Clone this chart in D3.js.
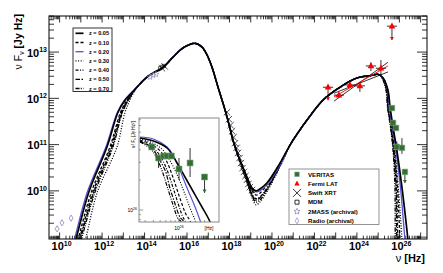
<!DOCTYPE html>
<html><head><meta charset="utf-8">
<script src="https://cdn.jsdelivr.net/npm/d3@7"></script>
<style>body{margin:0;background:#fff}svg{display:block;font-family:"Liberation Sans",Arial,Helvetica,sans-serif}</style>
</head><body><svg id="c" width="443" height="273"></svg>
<script>
// ---------- DATA (log10 nu [Hz], log10 nuFnu [Jy Hz]) ----------
// low-frequency synchrotron branch: shared log F levels, per-redshift log nu
const lowF      = [8.51, 8.96, 9.98, 10.95, 11.70, 11.96];
const lowNu005  = [10.49, 10.77, 11.38, 12.23, 12.75, 13.08];
const lowNu010  = [10.58, 10.87, 11.50, 12.37, 12.87, 13.17];
const lowNu020  = [10.42, 10.70, 11.31, 12.18, 12.72, 13.05];
const lowNu030  = [10.91, 11.22, 11.78, 12.70, 13.08, 13.31];
const lowNu040  = [10.65, 10.94, 11.57, 12.42, 12.91, 13.20];
const lowNu050  = [10.70, 10.98, 11.62, 12.47, 12.94, 13.22];
const lowNu070  = [10.75, 11.03, 11.67, 12.51, 12.96, 13.24];
// common synchrotron peak
const synchPeak = [[13.64,12.24],[14.11,12.46],[14.49,12.57],[14.82,12.65],[15.34,12.89],[15.81,13.09],[16.37,13.19],[16.70,13.11],[16.94,12.94],[17.17,12.68],[17.46,12.24],[17.79,11.75],[18.02,11.36],[18.16,11.10]];
// valley between humps: shared log nu, per-redshift log F
const dipNu  = [18.49, 18.82, 19.06, 19.25, 19.43, 19.76, 20.38];
const dipF005 = [10.67, 10.30, 10.06, 10.00, 10.04, 10.17, 10.60];
const dipF010 = [10.67, 10.28, 10.00, 9.91, 9.95, 10.13, 10.60];
const dipF020 = [10.67, 10.30, 10.06, 9.98, 10.00, 10.13, 10.56];
const dipF030 = [10.62, 10.19, 9.85, 9.70, 9.76, 9.98, 10.52];
const dipF040 = [10.65, 10.24, 9.93, 9.83, 9.87, 10.06, 10.56];
const dipF050 = [10.65, 10.24, 9.91, 9.80, 9.85, 10.04, 10.56];
const dipF070 = [10.65, 10.21, 9.89, 9.76, 9.80, 10.02, 10.54];
// common inverse-Compton rise
const icRise = [[20.85,10.99],[21.32,11.32],[21.65,11.53],[22.40,11.96],[23.20,12.24],[24.00,12.44],[24.75,12.50],[24.99,12.52]];
// high-energy cut-off: shared log F levels, per-redshift log nu
const highF     = [12.44, 12.18, 11.81, 11.38, 10.88, 10.08, 8.96, 8.51];
const highNu005 = [25.23, 25.46, 25.56, 25.70, 25.88, 26.12, 26.40, 26.50];
const highNu010 = [25.23, 25.41, 25.48, 25.63, 25.77, 25.91, 26.03, 26.10];
const highNu020 = [25.23, 25.44, 25.53, 25.67, 25.84, 26.05, 26.26, 26.36];
const highNu030 = [25.23, 25.41, 25.51, 25.65, 25.79, 25.95, 26.12, 26.19];
const highNu040 = [25.20, 25.39, 25.46, 25.60, 25.74, 25.86, 25.93, 25.98];
const highNu050 = [25.20, 25.39, 25.46, 25.60, 25.72, 25.84, 25.88, 25.93];
const highNu070 = [25.18, 25.37, 25.44, 25.58, 25.70, 25.79, 25.81, 25.86];
const redshifts = ["z = 0.05","z = 0.10","z = 0.20","z = 0.30","z = 0.40","z = 0.50","z = 0.70"];

// observations
const veritasNu = [25.65, 25.70, 25.84, 25.88, 26.12, 26.26];
const veritasF  = [11.79, 11.47, 11.36, 10.95, 10.93, 10.41];
const veritasLo = [11.75, 11.42, 11.31, 10.85, 10.80, 10.17];
const veritasHi = [11.83, 11.52, 11.41, 11.07, 11.14, 10.41];
const veritasUL = [false, false, false, false, false, true];
const fermiNu = [22.64, 23.15, 23.67, 24.14, 24.66, 25.13, 25.65];
const fermiF  = [12.24, 12.07, 12.29, 12.27, 12.70, 12.65, 13.56];
const fermiLo = [11.96, 12.02, 12.24, 12.14, 12.59, 12.50, 13.26];
const fermiHi = [12.24, 12.12, 12.34, 12.35, 12.78, 12.83, 13.56];
const fermiUL = [true, false, false, false, false, false, true];
const fermiBinHalf = 0.24;
const fermiFit  = [[22.92,12.03],[25.46,12.70]];
const fermiBowA = [[22.92,12.11],[25.46,12.57]];
const fermiBowB = [[22.92,11.94],[25.46,12.78]];
const swiftNu = [14.82, 14.95, 17.88, 17.97, 18.05, 18.12, 18.19, 18.26, 18.33, 18.40, 18.47, 18.54, 18.61, 18.68, 18.75, 18.82, 18.89, 18.96, 19.06];
const swiftF  = [12.65, 12.69, 11.70, 11.55, 11.42, 11.29, 11.16, 11.03, 10.93, 10.82, 10.71, 10.60, 10.49, 10.41, 10.32, 10.24, 10.15, 10.08, 10.02];
const mdmNu = [14.73, 14.82, 14.91];
const mdmF  = [12.65, 12.68, 12.70];
const twomassNu = [14.26, 14.40, 14.54];
const twomassF  = [12.46, 12.50, 12.52];
const radioNu = [9.88, 10.11, 10.54];
const radioF  = [9.18, 9.31, 9.41];

// inset (log nu, log nu^2 F_nu)
const insetZ005 = [[25.54,26.72],[25.70,26.69],[25.86,26.62],[25.97,26.48],[26.07,26.33],[26.17,26.18],[26.27,26.03],[26.36,25.89],[26.42,25.75]];
const insetZ010 = [[25.54,26.70],[25.69,26.65],[25.80,26.57],[25.87,26.46],[25.94,26.30],[26.01,26.12],[26.08,25.96],[26.13,25.89],[26.16,25.75]];
const insetZ020 = [[25.54,26.73],[25.70,26.71],[25.86,26.63],[25.93,26.55],[26.01,26.40],[26.09,26.23],[26.17,26.07],[26.25,25.89],[26.30,25.75]];
const insetZ030 = [[25.54,26.71],[25.69,26.67],[25.81,26.60],[25.89,26.50],[25.98,26.35],[26.06,26.18],[26.13,26.02],[26.19,25.89],[26.22,25.75]];
const insetZ040 = [[25.54,26.69],[25.68,26.63],[25.78,26.54],[25.85,26.42],[25.92,26.25],[25.98,26.09],[26.04,25.94],[26.07,25.89],[26.11,25.75]];
const insetZ050 = [[25.54,26.69],[25.68,26.62],[25.76,26.52],[25.84,26.39],[25.89,26.23],[25.95,26.07],[26.01,25.93],[26.05,25.89],[26.08,25.75]];
const insetZ070 = [[25.54,26.68],[25.67,26.61],[25.75,26.50],[25.81,26.37],[25.87,26.21],[25.93,26.05],[25.99,25.91],[26.02,25.89],[26.06,25.75]];
const insetVNu = [25.68, 25.76, 25.82, 25.86, 25.91, 26.00, 26.13, 26.30];
const insetVY  = [26.63, 26.52, 26.54, 26.54, 26.54, 26.41, 26.47, 26.33];
const insetVLo = [26.61, 26.42, 26.52, 26.52, 26.52, 26.30, 26.33, 26.17];
const insetVHi = [26.65, 26.55, 26.56, 26.56, 26.56, 26.52, 26.62, 26.33];
const insetVUL = [false, false, false, false, false, false, false, true];

const xTickLabels = [10, 12, 14, 16, 18, 20, 22, 24, 26];
const yTickLabels = [10, 11, 12, 13];
const legendObs = ["VERITAS","Fermi LAT","Swift XRT","MDM","2MASS (archival)","Radio (archival)"];

// ---------- BUILD ----------
const P = v => Math.pow(10, v);
const zip = (a, b) => a.map((v, i) => [v, b[i]]);
const build = (lowNu, dipF, highNu) => [...zip(lowNu, lowF), ...synchPeak, ...zip(dipNu, dipF), ...icRise, ...zip(highNu, highF)];
const styles = [
  {dash:null, color:"#000", w:1.7},
  {dash:"3,2", color:"#000", w:1.3},
  {dash:null, color:"#5252d8", w:1.3},
  {dash:"1,1.6", color:"#000", w:1.3},
  {dash:"3,1.5,1,1.5", color:"#000", w:1.3},
  {dash:"4.5,1.5,1.5,1.5", color:"#000", w:1.3},
  {dash:"4,1.3,1,1.3,1,1.3", color:"#000", w:1.3}
];
const series = [
  build(lowNu005, dipF005, highNu005),
  build(lowNu010, dipF010, highNu010),
  build(lowNu020, dipF020, highNu020),
  build(lowNu030, dipF030, highNu030),
  build(lowNu040, dipF040, highNu040),
  build(lowNu050, dipF050, highNu050),
  build(lowNu070, dipF070, highNu070)
];
const insetSeries = [insetZ005, insetZ010, insetZ020, insetZ030, insetZ040, insetZ050, insetZ070];
const drawOrder = [6,5,4,3,1,2,0];

const svg = d3.select("#c");
const L=49, R=427, T=16, B=239;
const x = d3.scaleLog().domain([P(9.5), P(27.3)]).range([L, R]);
const y = d3.scaleLog().domain([P(8.96), P(13.78)]).range([B, T]);

svg.append("rect").attr("width",443).attr("height",273).attr("fill","#fff");
svg.append("clipPath").attr("id","clip").append("rect").attr("x",L).attr("y",T).attr("width",R-L).attr("height",B-T);

// ticks
const gAx = svg.append("g").attr("stroke","#000").attr("stroke-width",0.8);
for (let k = 9; k <= 27; k++) for (let m = 1; m <= 9; m++) {
  const v = m * P(k); if (v < x.domain()[0] || v > x.domain()[1]) continue;
  const xx = x(v), len = m === 1 ? 6.5 : 3.3;
  gAx.append("line").attr("x1",xx).attr("x2",xx).attr("y1",B).attr("y2",B-len);
  gAx.append("line").attr("x1",xx).attr("x2",xx).attr("y1",T).attr("y2",T+len);
}
for (let k = 8; k <= 13; k++) for (let m = 1; m <= 9; m++) {
  const v = m * P(k); if (v < y.domain()[0] || v > y.domain()[1]) continue;
  const yy = y(v), len = m === 1 ? 10 : 5;
  gAx.append("line").attr("y1",yy).attr("y2",yy).attr("x1",L).attr("x2",L+len);
  gAx.append("line").attr("y1",yy).attr("y2",yy).attr("x1",R).attr("x2",R-len);
}
// tick labels
xTickLabels.forEach(e => {
  const t = svg.append("text").attr("x", x(P(e))+2).attr("y",250).attr("text-anchor","middle")
    .attr("font-size",11).attr("font-weight","bold");
  t.append("tspan").text("10");
  t.append("tspan").attr("dy",-4.5).attr("font-size",7).text(e);
});
yTickLabels.forEach(e => {
  const t = svg.append("text").attr("x",47).attr("y", y(P(e))+4.5).attr("text-anchor","end")
    .attr("font-size",11).attr("font-weight","bold");
  t.append("tspan").text("10");
  t.append("tspan").attr("dy",-4.5).attr("font-size",7).text(e);
});
// axis titles
const xt = svg.append("text").attr("x",425).attr("y",262).attr("text-anchor","end").attr("font-size",11).attr("font-weight","bold");
xt.append("tspan").attr("font-weight","normal").text("ν");
xt.append("tspan").text(" [Hz]");
const yt = svg.append("text").attr("transform","translate(22,14) rotate(-90)").attr("text-anchor","end").attr("font-size",10.5).attr("font-weight","bold");
yt.append("tspan").attr("font-weight","normal").text("ν F");
yt.append("tspan").attr("font-size",7).attr("dy",2).attr("font-weight","normal").text("ν");
yt.append("tspan").attr("dy",-2).text(" [Jy Hz]");

// curves
const line = d3.line().x(d => x(P(d[0]))).y(d => y(P(d[1]))).curve(d3.curveCatmullRom.alpha(0.5));
const gC = svg.append("g").attr("clip-path","url(#clip)");
drawOrder.forEach(i => {
  gC.append("path").attr("d", line(series[i])).attr("fill","none")
    .attr("stroke", styles[i].color).attr("stroke-width", styles[i].w)
    .attr("stroke-dasharray", styles[i].dash);
});

// fermi bowtie
[fermiBowA, fermiBowB].forEach(b => gC.append("path").attr("d", d3.line().x(d=>x(P(d[0]))).y(d=>y(P(d[1])))(b)).attr("stroke","#000").attr("stroke-width",0.8).attr("fill","none"));
gC.append("path").attr("d", d3.line().x(d=>x(P(d[0]))).y(d=>y(P(d[1])))(fermiFit)).attr("stroke","#f00").attr("stroke-width",0.9).attr("fill","none");

// symbols
const sym = {
  square: s => `M${-s},${-s}h${2*s}v${2*s}h${-2*s}Z`,
  tri: s => `M0,${-s*1.15}L${s},${s*0.7}L${-s},${s*0.7}Z`,
  cross: s => `M${-s},${-s}L${s},${s}M${-s},${s}L${s},${-s}`,
  diamond: s => `M0,${-s*1.3}L${s*0.8},0L0,${s*1.3}L${-s*0.8},0Z`,
  star: s => { let p=""; for(let i=0;i<10;i++){const r=i%2?s*0.45:s, a=-Math.PI/2+i*Math.PI/5; p+=(i?"L":"M")+(r*Math.cos(a)).toFixed(2)+","+(r*Math.sin(a)).toFixed(2);} return p+"Z"; }
};
const gD = svg.append("g").attr("clip-path","url(#clip)");
function arrow(g, xx, y0, y1, col){
  g.append("line").attr("x1",xx).attr("x2",xx).attr("y1",y0).attr("y2",y1).attr("stroke","#000").attr("stroke-width",0.8);
  g.append("path").attr("d",`M${xx-2},${y1-3}L${xx+2},${y1-3}L${xx},${y1}Z`).attr("fill",col);
}
// radio
radioNu.forEach((v,i)=> gD.append("path").attr("transform",`translate(${x(P(v))},${y(P(radioF[i]))})`).attr("d",sym.diamond(2.4)).attr("fill","none").attr("stroke","#8585c0").attr("stroke-width",0.8));
// 2MASS
twomassNu.forEach((v,i)=> gD.append("path").attr("transform",`translate(${x(P(v))},${y(P(twomassF[i]))})`).attr("d",sym.star(3)).attr("fill","none").attr("stroke","#8e8eb8").attr("stroke-width",0.7));
// MDM
mdmNu.forEach((v,i)=> gD.append("path").attr("transform",`translate(${x(P(v))},${y(P(mdmF[i]))})`).attr("d",sym.square(1.6)).attr("fill","none").attr("stroke","#000").attr("stroke-width",0.6));
// Swift
swiftNu.forEach((v,i)=> gD.append("path").attr("transform",`translate(${x(P(v))},${y(P(swiftF[i]))})`).attr("d",sym.cross(3.2)).attr("fill","none").attr("stroke","#000").attr("stroke-width",0.7));
// Fermi
fermiNu.forEach((v,i)=>{
  const xx=x(P(v)), yy=y(P(fermiF[i]));
  gD.append("line").attr("x1",x(P(v-fermiBinHalf))).attr("x2",x(P(v+fermiBinHalf))).attr("y1",yy).attr("y2",yy).attr("stroke","#000").attr("stroke-width",0.8);
  if (fermiUL[i]) arrow(gD, xx, yy, y(P(fermiLo[i])), "#f00");
  else gD.append("line").attr("x1",xx).attr("x2",xx).attr("y1",y(P(fermiLo[i]))).attr("y2",y(P(fermiHi[i]))).attr("stroke","#000").attr("stroke-width",0.8);
  gD.append("path").attr("transform",`translate(${xx},${yy})`).attr("d",sym.tri(3.3)).attr("fill","#f00");
});
// VERITAS
veritasNu.forEach((v,i)=>{
  const xx=x(P(v)), yy=y(P(veritasF[i]));
  if (veritasUL[i]) arrow(gD, xx, yy, y(P(veritasLo[i])), "#2f6a2f");
  else gD.append("line").attr("x1",xx).attr("x2",xx).attr("y1",y(P(veritasLo[i]))).attr("y2",y(P(veritasHi[i]))).attr("stroke","#000").attr("stroke-width",0.8);
  gD.append("path").attr("transform",`translate(${xx},${yy})`).attr("d",sym.square(2.8)).attr("fill","#336e33").attr("stroke","#86a886").attr("stroke-width",0.6);
});

// frame
svg.append("rect").attr("x",L).attr("y",T).attr("width",R-L).attr("height",B-T).attr("fill","none").attr("stroke","#000").attr("stroke-width",1);

// ---------- legend 1 ----------
const lg1 = svg.append("g");
lg1.append("rect").attr("x",73).attr("y",28).attr("width",39).attr("height",63.5).attr("fill","#fff").attr("stroke","#000").attr("stroke-width",0.8);
redshifts.forEach((z,i)=>{
  const yy = 33.3 + i*9.2;
  lg1.append("line").attr("x1",75.5).attr("x2",83.5).attr("y1",yy).attr("y2",yy).attr("stroke",styles[i].color).attr("stroke-width",styles[i].w).attr("stroke-dasharray",styles[i].dash);
  lg1.append("text").attr("x",89).attr("y",yy+2).attr("font-size",5.6).attr("font-weight","bold").text(z);
});

// ---------- legend 2 ----------
const lg2 = svg.append("g");
lg2.append("rect").attr("x",289).attr("y",169).attr("width",90).attr("height",55.5).attr("fill","#fff").attr("stroke","#888").attr("stroke-width",0.9);
legendObs.forEach((t,i)=>{
  const yy = 174.3 + i*9.3, xx = 297;
  const g = lg2.append("g").attr("transform",`translate(${xx},${yy})`);
  if (i===0) g.append("path").attr("d",sym.square(2.3)).attr("fill","#336e33").attr("stroke","#86a886").attr("stroke-width",0.5);
  if (i===1) g.append("path").attr("d",sym.tri(2.7)).attr("fill","#f00");
  if (i===2) g.append("path").attr("d",sym.cross(4)).attr("stroke","#000").attr("stroke-width",0.8);
  if (i===3) g.append("path").attr("d",sym.square(2)).attr("fill","none").attr("stroke","#000").attr("stroke-width",0.8);
  if (i===4) g.append("path").attr("d",sym.star(3.2)).attr("fill","none").attr("stroke","#7b7bb8").attr("stroke-width",0.7);
  if (i===5) g.append("path").attr("d",sym.diamond(2.3)).attr("fill","none").attr("stroke","#8585c0").attr("stroke-width",0.7);
  lg2.append("text").attr("x",308).attr("y",yy+2.2).attr("font-size",6.1).attr("font-weight","bold").text(t);
});

// ---------- inset ----------
const IL=139, IR=219, IT=118, IB=222;
const ix = d3.scaleLog().domain([P(25.53), P(26.47)]).range([IL, IR]);
const iy = d3.scaleLog().domain([P(25.88), P(26.92)]).range([IB, IT]);
const gi = svg.append("g");
gi.append("rect").attr("x",IL).attr("y",IT).attr("width",IR-IL).attr("height",IB-IT).attr("fill","#fff");
svg.append("clipPath").attr("id","iclip").append("rect").attr("x",IL).attr("y",IT).attr("width",IR-IL).attr("height",IB-IT);
const giC = gi.append("g").attr("clip-path","url(#iclip)");
const iline = d3.line().x(d => ix(P(d[0]))).y(d => iy(P(d[1]))).curve(d3.curveCatmullRom.alpha(0.5));
drawOrder.forEach(i => {
  giC.append("path").attr("d", iline(insetSeries[i])).attr("fill","none")
    .attr("stroke", styles[i].color).attr("stroke-width", styles[i].w*0.9)
    .attr("stroke-dasharray", styles[i].dash);
});
insetVNu.forEach((v,i)=>{
  const xx=ix(P(v)), yy=iy(P(insetVY[i]));
  if (insetVUL[i]) {
    giC.append("line").attr("x1",xx).attr("x2",xx).attr("y1",yy).attr("y2",iy(P(insetVLo[i]))).attr("stroke","#000").attr("stroke-width",0.8);
    giC.append("path").attr("d",`M${xx-2},${iy(P(insetVLo[i]))-3.5}L${xx+2},${iy(P(insetVLo[i]))-3.5}L${xx},${iy(P(insetVLo[i]))}Z`).attr("fill","#2f6a2f");
  } else giC.append("line").attr("x1",xx).attr("x2",xx).attr("y1",iy(P(insetVLo[i]))).attr("y2",iy(P(insetVHi[i]))).attr("stroke","#000").attr("stroke-width",0.8);
  giC.append("path").attr("transform",`translate(${xx},${yy})`).attr("d",sym.square(3)).attr("fill","#336e33").attr("stroke","#86a886").attr("stroke-width",0.6);
});
const giT = gi.append("g").attr("stroke","#555").attr("stroke-width",0.6);
for (let k=25;k<=26;k++) for (let m=1;m<=9;m++){
  const v=m*P(k);
  if (v>=ix.domain()[0] && v<=ix.domain()[1]) { const xx=ix(v); giT.append("line").attr("x1",xx).attr("x2",xx).attr("y1",IB).attr("y2",IB-(m===1?4:2)); }
  if (v>=iy.domain()[0] && v<=iy.domain()[1]) { const yy=iy(v); giT.append("line").attr("y1",yy).attr("y2",yy).attr("x1",IL).attr("x2",IL+(m===1?4:2)); }
}
gi.append("rect").attr("x",IL).attr("y",IT).attr("width",IR-IL).attr("height",IB-IT).attr("fill","none").attr("stroke","#888").attr("stroke-width",1);
const il1 = gi.append("text").attr("x",ix(P(26))).attr("y",230).attr("text-anchor","middle").attr("font-size",5);
il1.append("tspan").text("10"); il1.append("tspan").attr("dy",-2).attr("font-size",3.5).text("26");
gi.append("text").attr("x",209).attr("y",230).attr("text-anchor","middle").attr("font-size",5).text("[Hz]");
const il2 = gi.append("text").attr("x",137).attr("y",iy(P(26))+2).attr("text-anchor","end").attr("font-size",5);
il2.append("tspan").text("10"); il2.append("tspan").attr("dy",-2).attr("font-size",3.5).text("26");
const it = gi.append("text").attr("transform","translate(135,121) rotate(-90)").attr("text-anchor","end").attr("font-size",4.6);
it.append("tspan").text("ν");
it.append("tspan").attr("dy",-1.5).attr("font-size",3.2).text("2");
it.append("tspan").attr("dy",1.5).text(" F");
it.append("tspan").attr("dy",1.2).attr("font-size",3.2).text("ν");
it.append("tspan").attr("dy",-1.2).text(" [Jy Hz");
it.append("tspan").attr("dy",-1.5).attr("font-size",3.2).text("2");
it.append("tspan").attr("dy",1.5).text("]");
</script></body></html>
